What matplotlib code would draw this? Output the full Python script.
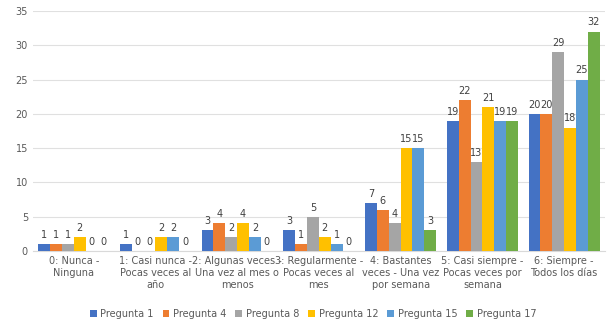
import matplotlib.pyplot as plt
import numpy as np

categories = ['0: Nunca -\nNinguna', '1: Casi nunca -\nPocas veces al\naño',
              '2: Algunas veces -\nUna vez al mes o\nmenos', '3: Regularmente -\nPocas veces al\nmes',
              '4: Bastantes\nveces - Una vez\npor semana', '5: Casi siempre -\nPocas veces por\nsemana',
              '6: Siempre -\nTodos los días']
series_names = ['Pregunta 1', 'Pregunta 4', 'Pregunta 8', 'Pregunta 12', 'Pregunta 15', 'Pregunta 17']
p1 = [1, 1, 3, 3, 7, 19, 20]
p4 = [1, 0, 4, 1, 6, 22, 20]
p8 = [1, 0, 2, 5, 4, 13, 29]
p12 = [2, 2, 4, 2, 15, 21, 18]
p15 = [0, 2, 2, 1, 15, 19, 25]
p17 = [0, 0, 0, 0, 3, 19, 32]
series = [p1, p4, p8, p12, p15, p17]
colors = ['#4472C4', '#ED7D31', '#A5A5A5', '#FFC000', '#5B9BD5', '#70AD47']

fig = plt.figure(figsize=(6.08, 3.25), dpi=100)
ax = fig.add_axes([0.054, 0.228, 0.941, 0.738])

x = np.arange(len(categories))
w = 0.145
for i, (vals, name, c) in enumerate(zip(series, series_names, colors)):
    pos = x + (i - 2.5) * w
    ax.bar(pos, vals, w, color=c, label=name, zorder=3)
    for xp, v in zip(pos, vals):
        ax.text(xp, v + 0.6, str(v), ha='center', va='bottom', fontsize=7, color='#404040')

ax.set_ylim(0, 35)
ax.set_xlim(-0.5, len(categories) - 0.5)
ax.set_yticks(range(0, 36, 5))
ax.set_xticks(x)
ax.set_xticklabels(categories, fontsize=7, color='#595959')
ax.tick_params(axis='y', labelsize=7, colors='#595959', length=0)
ax.tick_params(axis='x', length=0, pad=4)
ax.yaxis.grid(True, color='#E0E0E0', linewidth=0.8, zorder=0)
for s in ['top', 'right', 'left']:
    ax.spines[s].set_visible(False)
ax.spines['bottom'].set_color('#D9D9D9')

ax.legend(loc='upper center', bbox_to_anchor=(0.49, -0.205), ncol=6, frameon=False,
          fontsize=7, handlelength=0.7, handleheight=0.7, handletextpad=0.4,
          columnspacing=0.9, labelcolor='#595959')

fig.savefig('out.png', dpi=100)
